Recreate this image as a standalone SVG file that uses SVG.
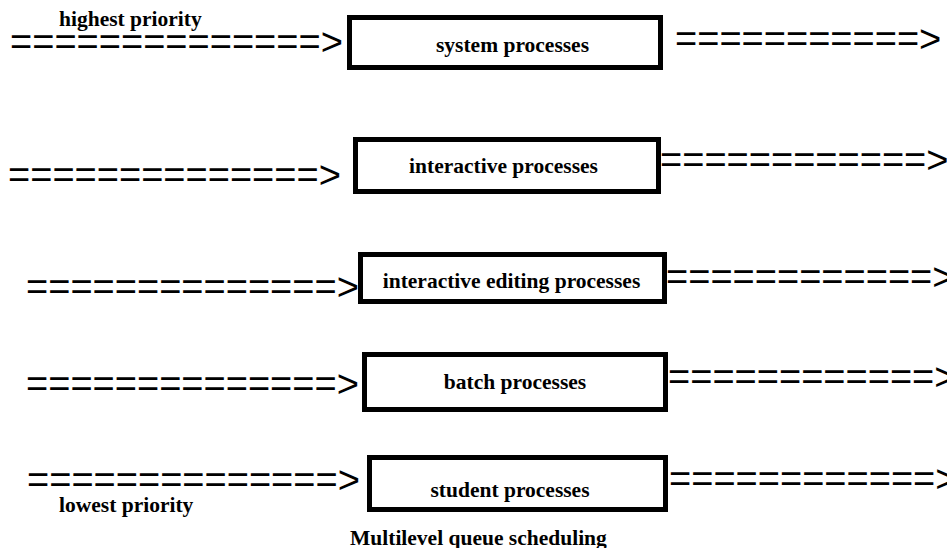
<svg xmlns="http://www.w3.org/2000/svg" width="947" height="548" viewBox="0 0 947 548">
<style>
.box{fill:#fff;stroke:#000;stroke-width:5}
.lbl{font-family:"Liberation Serif","Times New Roman",serif;font-weight:bold;font-size:21.5px;fill:#000}
.arr{font-family:"Liberation Sans",Arial,sans-serif;font-size:38px;fill:#000}
</style>
<rect width="947" height="548" fill="#fff"/>
<g id="connectors">
<text class="arr" x="10" y="55">==============&gt;</text>
<text class="arr" x="675" y="52">===========&gt;</text>
<text class="arr" x="8" y="188">==============&gt;</text>
<text class="arr" x="660" y="173">============&gt;</text>
<text class="arr" x="26" y="300">==============&gt;</text>
<text class="arr" x="666" y="290">============&gt;</text>
<text class="arr" x="26" y="397">==============&gt;</text>
<text class="arr" x="668" y="390">============&gt;</text>
<text class="arr" x="27" y="493">==============&gt;</text>
<text class="arr" x="669" y="492">============&gt;</text>
</g>
<g id="system">
<rect class="box" x="349.5" y="17.5" width="311" height="50"/>
<text class="lbl" x="512.5" y="52" text-anchor="middle">system processes</text>
</g>
<g id="interactive">
<rect class="box" x="355.5" y="139.5" width="303" height="52"/>
<text class="lbl" x="503.5" y="173" text-anchor="middle">interactive processes</text>
</g>
<g id="editing">
<rect class="box" x="360.5" y="254.5" width="304" height="47"/>
<text class="lbl" x="511.5" y="288" text-anchor="middle">interactive editing processes</text>
</g>
<g id="batch">
<rect class="box" x="364.5" y="354.5" width="301" height="55"/>
<text class="lbl" x="515" y="389" text-anchor="middle">batch processes</text>
</g>
<g id="student">
<rect class="box" x="369.5" y="457.5" width="296" height="52"/>
<text class="lbl" x="510" y="497" text-anchor="middle">student processes</text>
</g>
<g id="labels">
<text class="lbl" x="59" y="26">highest priority</text>
<text class="lbl" x="59" y="512">lowest priority</text>
<text class="lbl" x="350" y="545">Multilevel queue scheduling</text>
</g>
</svg>
